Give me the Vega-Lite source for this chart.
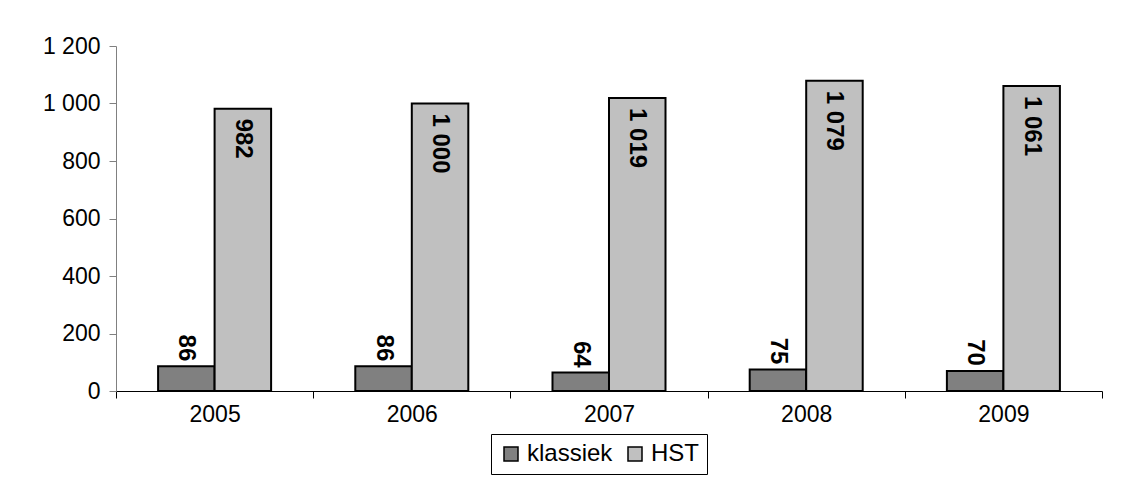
{
  "$schema": "https://vega.github.io/schema/vega-lite/v6.json",
  "autosize": "none",
  "width": 986,
  "height": 345,
  "padding": {"left": 116, "top": 46, "right": 28, "bottom": 92},
  "background": "white",
  "config": {
    "font": "Liberation Sans",
    "view": {"stroke": null},
    "locale": {"number": {"decimal": ",", "thousands": " ", "grouping": [3], "currency": ["", " €"]}}
  },
  "data": {
    "values": [
      {"jaar": "2005", "serie": "klassiek", "aantal": 86},
      {"jaar": "2005", "serie": "HST", "aantal": 982},
      {"jaar": "2006", "serie": "klassiek", "aantal": 86},
      {"jaar": "2006", "serie": "HST", "aantal": 1000},
      {"jaar": "2007", "serie": "klassiek", "aantal": 64},
      {"jaar": "2007", "serie": "HST", "aantal": 1019},
      {"jaar": "2008", "serie": "klassiek", "aantal": 75},
      {"jaar": "2008", "serie": "HST", "aantal": 1079},
      {"jaar": "2009", "serie": "klassiek", "aantal": 70},
      {"jaar": "2009", "serie": "HST", "aantal": 1061}
    ]
  },
  "encoding": {
    "x": {
      "field": "jaar", "type": "nominal",
      "scale": {"paddingInner": 0, "paddingOuter": 0},
      "axis": {
        "title": null, "labelAngle": 0, "labelFontSize": 23, "labelColor": "black",
        "domainColor": "black", "domainWidth": 1, "tickColor": "black", "tickSize": 7,
        "tickBand": "extent", "labelPadding": 5, "grid": false
      }
    },
    "xOffset": {
      "field": "serie", "type": "nominal", "sort": ["klassiek", "HST"],
      "scale": {"paddingInner": 0, "paddingOuter": 0.745}
    },
    "y": {
      "field": "aantal", "type": "quantitative",
      "scale": {"domain": [0, 1200], "nice": false},
      "axis": {
        "title": null, "values": [0, 200, 400, 600, 800, 1000, 1200], "format": ",.0f",
        "labelFontSize": 23, "labelColor": "black", "domainColor": "#808080",
        "tickColor": "#808080", "tickSize": 7, "labelPadding": 9, "grid": false
      }
    }
  },
  "layer": [
    {
      "mark": {"type": "bar", "stroke": "black", "strokeWidth": 2},
      "encoding": {
        "color": {
          "field": "serie", "type": "nominal", "sort": ["klassiek", "HST"],
          "scale": {"domain": ["klassiek", "HST"], "range": ["#808080", "#C0C0C0"]},
          "legend": {
            "title": null, "orient": "none", "direction": "horizontal",
            "legendX": 375, "legendY": 388,
            "strokeColor": "black", "padding": 8, "fillColor": "white",
            "symbolType": "square", "symbolSize": 196, "symbolStrokeColor": "black",
            "symbolStrokeWidth": 1.5, "symbolOpacity": 1,
            "labelFontSize": 24, "labelColor": "black", "labelOffset": 4,
            "columnPadding": 10
          }
        }
      }
    },
    {
      "transform": [{"filter": "datum.serie == 'klassiek'"}],
      "mark": {"type": "text", "angle": 90, "align": "right", "baseline": "middle", "dx": -5, "fontWeight": "bold", "fontSize": 24, "color": "black"},
      "encoding": {"text": {"field": "aantal", "type": "quantitative", "format": ",.0f"}}
    },
    {
      "transform": [{"filter": "datum.serie == 'HST'"}],
      "mark": {"type": "text", "angle": 90, "align": "left", "baseline": "middle", "dx": 10, "fontWeight": "bold", "fontSize": 24, "color": "black"},
      "encoding": {"text": {"field": "aantal", "type": "quantitative", "format": ",.0f"}}
    }
  ]
}
